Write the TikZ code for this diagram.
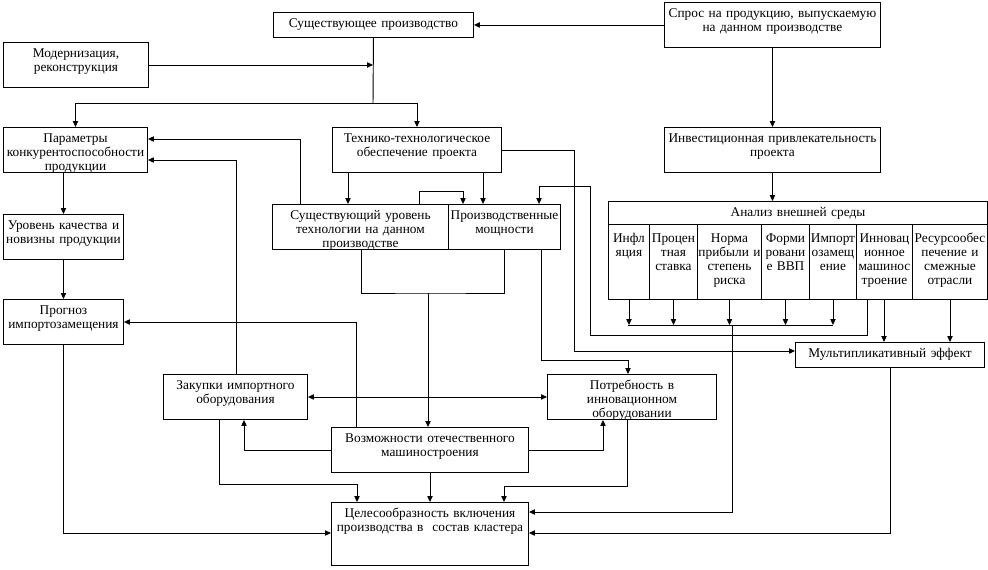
\documentclass[tikz,border=0pt]{standalone}
\usepackage{fontspec}
\setmainfont{Liberation Serif}
\usetikzlibrary{arrows.meta}
\tikzset{
  box/.style={draw, anchor=north west, align=center, inner xsep=1pt, inner ysep=0pt,
    text height=10.9pt, line width=0.7pt, font=\fontsize{10pt}{10.5pt}\selectfont},
  tall/.style={box, text depth=22.85pt},
  flat/.style={box, text depth=7.85pt},
  cell/.style={box, inner xsep=0pt, text height=13.5pt, text depth=42.75pt},
  wire/.style={line width=0.7pt},
  arr/.style={wire, -{Triangle[length=4.5pt,width=4pt]}},
  arrboth/.style={wire, {Triangle[length=4.5pt,width=4pt]}-{Triangle[length=4.5pt,width=4pt]}}
}
\begin{document}
\begin{tikzpicture}[x=0.75pt,y=0.75pt,yscale=-1,xscale=1]
    \useasboundingbox (0,0) rectangle (988,569);
    %Shape: Rectangle [top row]
    \node[flat, text width=148pt] (prod) at (273,12) {Существующее производство};
    \node[tall, text width=160pt] (demand) at (664,2) {Спрос на продукцию, выпускаемую\\на данном производстве};
    \node[tall, text width=106.75pt] (modern) at (3,42) {Модернизация,\\реконструкция};
    %Shape: Rectangle [second row]
    \node[tall, text width=106pt] (params) at (3,127) {Параметры\\конкурентоспособности\\продукции};
    \node[tall, text width=124.75pt] (techsup) at (332,127) {Технико-технологическое\\обеспечение проекта};
    \node[tall, text width=160pt] (invest) at (664,127) {Инвестиционная привлекательность\\проекта};
    %Shape: Rectangle [left column]
    \node[tall, text width=88pt] (quality) at (3,214) {Уровень качества и\\новизны продукции};
    \node[tall, text width=88pt] (forecast) at (3,299) {Прогноз\\импортозамещения};
    %Shape: Rectangle [technology and capacity]
    \node[tall, text width=130pt] (techlevel) at (272,204) {Существующий уровень\\технологии на данном\\производстве};
    \node[tall, text width=82pt] (capacity) at (448,204) {Производственные\\мощности};
    %Shape: Table [external environment]
    \node[box, text width=282.25pt, text depth=6.35pt] (env) at (608,201) {Анализ внешней среды};
    \node[cell, text width=30.75pt] (infl) at (608,224) {Инфл\\яция};
    \node[cell, text width=36pt] (rate) at (649,224) {Процен\\тная\\ставка};
    \node[cell, text width=48pt] (profit) at (697,224) {Норма\\прибыли и\\степень\\риска};
    \node[cell, text width=36pt] (gdp) at (761,224) {Форми\\ровани\\е ВВП};
    \node[cell, text width=35.25pt] (subst) at (809,224) {Импорт\\озамещ\\ение};
    \node[cell, text width=42pt] (innov) at (856,224) {Инновац\\ионное\\машинос\\троение};
    \node[cell, text width=56.25pt] (res) at (912,224) {Ресурсообес\\печение и\\смежные\\отрасли};
    \node[flat, text width=139.75pt] (mult) at (795,342) {Мультипликативный эффект};
    %Shape: Rectangle [lower part]
    \node[tall, text width=106pt] (purchase) at (163,374) {Закупки импортного\\оборудования};
    \node[tall, text width=124.75pt] (need) at (547,374) {Потребность в\\инновационном\\оборудовании};
    \node[tall, text width=145.75pt] (domestic) at (331,427) {Возможности отечественного\\машиностроения};
    \node[box, text width=145.75pt, text depth=36.35pt] (goal) at (331,502) {Целесообразность включения\\производства в~ состав кластера};

    %Straight Lines [top]
    \coordinate (split) at (373,103);
    \draw[arr] (demand.west) -- (prod.east);
    \draw[wire] (prod.south) -- (split);
    \draw[arr] (modern.east) -- (modern.east -| split);
    \draw[arr] (split) -| (params.north);
    \draw[arr] (split) -| (techsup.north);
    \draw[arr] (demand.south) -- (invest.north);
    \draw[arr] (invest.south) -- (invest.south |- env.north);
    %Straight Lines [technology]
    \draw[arr] (techsup.south -| 348,0) -- (techlevel.north -| 348,0);
    \draw[arr] (techsup.south -| 483,0) -- (capacity.north -| 483,0);
    \draw[arr] (techlevel.north -| 419,0) -- (419,191) -| (capacity.north -| 463,0);
    \draw[arr] (techlevel.north -| 300,0) |- (params.east |- 0,139);
    \draw[arr] (purchase.north -| 236,0) |- (params.east |- 0,160);
    \coordinate (merge) at (428,293);
    \draw[wire] (techlevel.south -| 361,0) |- (merge) -| (capacity.south);
    \draw[arr] (merge) -- (merge |- domestic.north);
    \draw[arr] (capacity.south -| 541,0) -- (541,360) -| (need.north -| 628,0);
    \draw[arr] (techsup.east) -| (574,351) -- (mult.west |- 0,351);
    %Straight Lines [left column]
    \draw[arr] (params.south -| quality.north) -- (quality.north);
    \draw[arr] (quality.south) -- (forecast.north);
    \draw[arr] (forecast.south) |- (goal.west |- 0,533);
    \draw[arr] (domestic.north -| 356,0) |- (forecast.east |- 0,322);
    %Straight Lines [external environment]
    \coordinate (busL) at (628,325);
    \coordinate (busR) at (833,325);
    \draw[wire] (busL) -- (busR);
    \draw[arr] (infl.south) -- (infl.south |- busL);
    \draw[arr] (rate.south) -- (rate.south |- busL);
    \draw[arr] (profit.south) -- (profit.south |- busL);
    \draw[arr] (gdp.south) -- (gdp.south |- busL);
    \draw[arr] (subst.south) -- (subst.south |- busL);
    \draw[arr] (busL -| 732,0) |- (goal.east |- 0,512);
    \draw[arr] (innov.south -| 867,0) -- (867,335) -| (590,186) -| (capacity.north -| 539,0);
    \draw[arr] (innov.south -| 884,0) -- (mult.north -| 884,0);
    \draw[arr] (res.south) -- (res.south |- mult.north);
    \draw[arr] (mult.south) |- (goal.east |- 0,533);
    %Straight Lines [lower part]
    \draw[arrboth] (purchase.east) -- (need.west);
    \draw[arr] (domestic.west) -| (purchase.south -| 244,0);
    \draw[arr] (domestic.east) -| (need.south -| 603,0);
    \draw[arr] (purchase.south -| 219,0) -- (219,484) -| (goal.north -| 357,0);
    \draw[arr] (domestic.south) -- (goal.north);
    \draw[arr] (need.south -| 627,0) -- (627,486) -| (goal.north -| 504,0);
\end{tikzpicture}
\end{document}
